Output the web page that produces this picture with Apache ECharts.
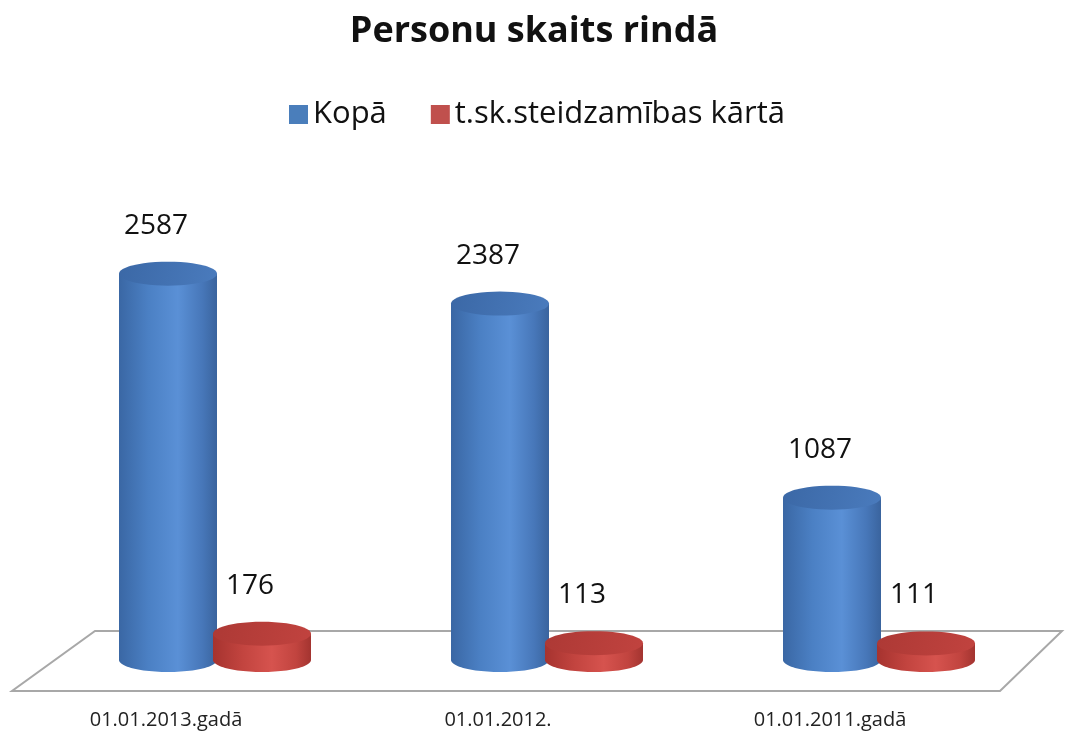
<!DOCTYPE html>
<html>
<head>
<meta charset="utf-8">
<script src="https://cdn.jsdelivr.net/npm/echarts@6/dist/echarts.min.js"></script>
<style>
  html, body { margin: 0; padding: 0; background: #fff; }
  #chart { width: 1068px; height: 741px; }
</style>
</head>
<body>
<div id="chart"></div>
<script>
var categories = ['01.01.2013.gadā', '01.01.2012.', '01.01.2011.gadā']
var totalValues = [2587, 2387, 1087]
var urgentValues = [176, 113, 111]
var seriesNames = ['Kopā', 't.sk.steidzamības kārtā']

var FONT = '"Open Sans", "Noto Sans", sans-serif'

var blueBody = [
  { offset: 0, color: '#3a67a4' },
  { offset: 0.3, color: '#4b80c4' },
  { offset: 0.6, color: '#5a90d6' },
  { offset: 0.85, color: '#4777b9' },
  { offset: 1, color: '#3a649e' }
]
var blueTop = [
  { offset: 0, color: '#3b68a6' },
  { offset: 1, color: '#4a7bbd' }
]
var redBody = [
  { offset: 0, color: '#a6332f' },
  { offset: 0.3, color: '#c2443f' },
  { offset: 0.6, color: '#d6534e' },
  { offset: 0.85, color: '#c1443f' },
  { offset: 1, color: '#a33430' }
]
var redTop = [
  { offset: 0, color: '#ad3935' },
  { offset: 1, color: '#c1433f' }
]

// points along an ellipse arc
function ellipsePoints (cx, cy, rx, ry, from, to) {
  var pts = []
  var n = 48
  for (var i = 0; i <= n; i++) {
    var a = from + (to - from) * i / n
    pts.push([cx + rx * Math.cos(a), cy + ry * Math.sin(a)])
  }
  return pts
}

function makeCylinder (offset, bodyStops, topStops) {
  return function (params, api) {
    var p0 = api.coord([api.value(0), 0])
    var p1 = api.coord([api.value(0), api.value(1)])
    var cx = p0[0] + offset
    var base = p0[1]
    var top = p1[1]
    var rx = 49
    var ry = 12
    var body = [[cx - rx, top], [cx - rx, base]].concat(
      ellipsePoints(cx, base, rx, ry, Math.PI, 0),
      [[cx + rx, top]]
    )
    var cap = ellipsePoints(cx, top, rx, ry, 0, Math.PI * 2)
    return {
      type: 'group',
      children: [
        {
          type: 'polygon',
          shape: { points: body },
          style: { fill: { type: 'linear', x: 0, y: 0, x2: 1, y2: 0, colorStops: bodyStops } }
        },
        {
          type: 'polygon',
          shape: { points: cap },
          style: { fill: { type: 'linear', x: 0, y: 0, x2: 1, y2: 1, colorStops: topStops } }
        },
        {
          type: 'text',
          style: {
            text: String(api.value(1)),
            x: cx - 12,
            y: top - 48,
            align: 'center',
            verticalAlign: 'middle',
            fontSize: 28,
            fontFamily: FONT,
            fill: '#111'
          }
        }
      ]
    }
  }
}

function renderFloor (params, api) {
  var cs = params.coordSys
  var base = cs.y + cs.height
  return {
    type: 'polygon',
    shape: {
      points: [
        [cs.x + 12, base + 31],
        [cs.x + cs.width + 4, base + 31],
        [cs.x + cs.width + 66, base - 29],
        [cs.x + 95, base - 29]
      ]
    },
    style: { fill: '#fff', stroke: '#a8a8a8', lineWidth: 2 }
  }
}

var chart = echarts.init(document.getElementById('chart'))
chart.setOption({
  animation: false,
  backgroundColor: '#fff',
  title: {
    text: 'Personu skaits rindā',
    left: 'center',
    top: 9,
    textStyle: { fontSize: 36, fontWeight: 'bold', fontFamily: FONT, color: '#111' }
  },
  legend: {
    data: seriesNames,
    top: 94,
    left: 284,
    icon: 'rect',
    itemWidth: 19,
    itemHeight: 19,
    itemGap: 44,
    textStyle: { fontSize: 31, fontFamily: FONT, color: '#111' }
  },
  grid: { left: 0, right: 72, top: 212, bottom: 81 },
  xAxis: {
    type: 'category',
    data: categories,
    axisLine: { show: false },
    axisTick: { show: false },
    axisLabel: { margin: 50, fontSize: 20, fontFamily: FONT, color: '#222' }
  },
  yAxis: { type: 'value', min: 0, max: 3000, show: false },
  series: [
    {
      type: 'custom',
      name: 'floor',
      z: 1,
      silent: true,
      data: [[0, 0]],
      renderItem: renderFloor
    },
    {
      type: 'custom',
      name: seriesNames[0],
      z: 2,
      itemStyle: { color: '#4a7ebb' },
      data: totalValues.map(function (v, i) { return [i, v] }),
      renderItem: makeCylinder(2, blueBody, blueTop)
    },
    {
      type: 'custom',
      name: seriesNames[1],
      z: 3,
      itemStyle: { color: '#c0504d' },
      data: urgentValues.map(function (v, i) { return [i, v] }),
      renderItem: makeCylinder(96, redBody, redTop)
    }
  ]
})
</script>
</body>
</html>
